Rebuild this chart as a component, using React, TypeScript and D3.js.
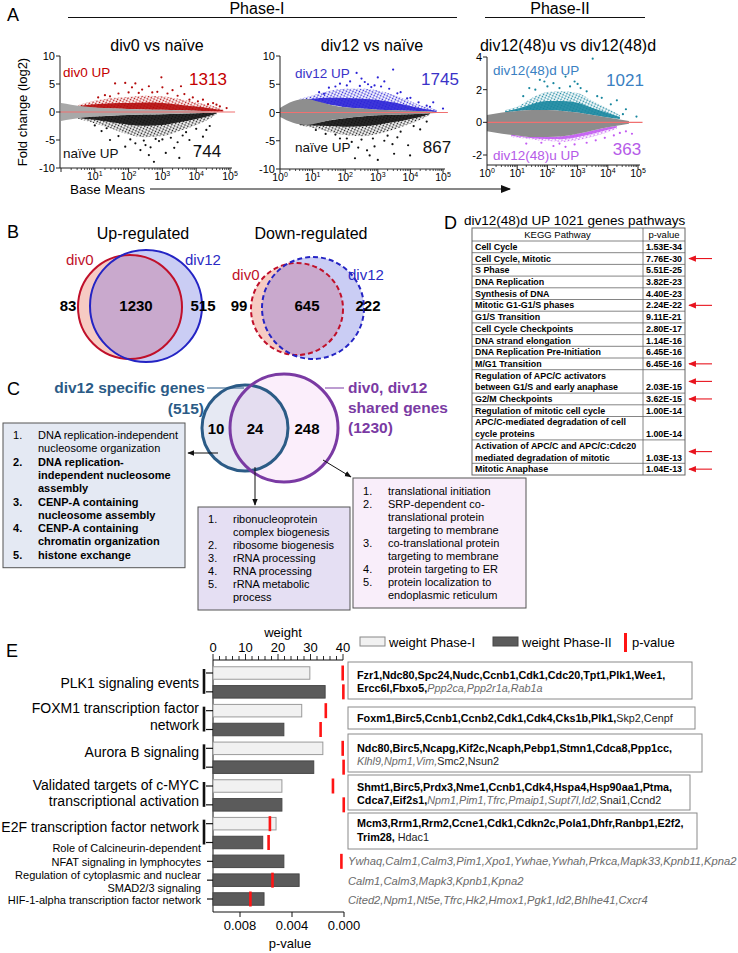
import React from 'react';
import * as d3 from 'd3';

const FONT = "'Liberation Sans', Arial, Helvetica, sans-serif";

// ---------------- Panel A data (x = log10 base mean, y = log2 fold change) ----------------
const maTitles = ['div0 vs naïve', 'div12 vs naïve', 'div12(48)u vs div12(48)d'];
const maUpLabels = ['div0 UP', 'div12 UP', 'div12(48)d UP'];
const maDownLabels = ['naïve UP', 'naïve UP', 'div12(48)u UP'];
const maUpCounts = [1313, 1745, 1021];
const maDownCounts = [744, 867, 363];
const maYTicks = [[-10, -5, 0, 5, 10], [-10, -5, 0, 5, 10], [-2, 0, 2, 4]];
const maXTickExps = [[1, 2, 3, 4, 5], [0, 1, 2, 3, 4, 5], [0, 1, 2, 3, 4, 5]];

// dense clouds as bands [log10 x, lower y, upper y]
const a1Gray = [[0, -1.6, 1.6], [0.3, -1.3, 1.3], [0.7, -1.0, 1.0], [1, -0.8, 0.8], [1.5, -0.65, 0.65], [2, -0.55, 0.55], [2.5, -0.45, 0.45], [3, -0.38, 0.38], [3.5, -0.3, 0.3], [4, -0.22, 0.22], [4.4, -0.12, 0.12]];
const a1Up = [[0.5, 0.9, 1.2], [1, 0.75, 2.0], [1.5, 0.62, 2.5], [2, 0.52, 2.7], [2.5, 0.45, 2.9], [3, 0.38, 2.8], [3.5, 0.3, 2.3], [4, 0.22, 1.7], [4.4, 0.15, 1.2], [4.8, 0.1, 0.5]];
const a1Down = [[0.5, -0.9, -1.2], [1, -0.8, -2.0], [1.5, -0.65, -3.0], [2, -0.55, -4.0], [2.5, -0.45, -4.5], [3, -0.38, -4.3], [3.5, -0.3, -3.4], [4, -0.22, -2.3], [4.4, -0.15, -1.2], [4.6, -0.1, -0.4]];
const a1UpPts = [[1.6, 5.1], [1.9, 5.2], [2.2, 5.1], [2.97, 6.2], [2.85, 3.6], [3.3, 3.9], [3.65, 3.2], [2.4, 4.0], [2.0, 3.5], [1.3, 3.0], [3.9, 2.6], [4.2, 2.2], [4.5, 1.6], [4.9, 0.7], [4.7, 1.0], [3.0, 4.4], [2.6, 4.6], [1.1, 2.6], [1.7, 3.3], [2.3, 3.4], [2.7, 3.5], [3.15, 3.3], [3.45, 2.9], [3.8, 2.2], [4.05, 1.9], [4.35, 1.4], [1.45, 2.8], [2.1, 4.4], [3.55, 4.6], [4.6, 1.3]];
const a1DownPts = [[1.45, -5.0], [1.9, -6.2], [2.35, -6.8], [2.6, -7.7], [2.9, -5.2], [3.35, -6.4], [3.8, -5.0], [4.1, -6.2], [2.75, -8.9], [2.2, -5.6], [3.1, -7.3], [3.6, -4.2], [4.3, -3.2], [1.2, -3.4], [2.5, -5.9], [3.0, -4.9], [3.5, -8.2], [4.4, -2.5], [1.7, -4.3], [2.05, -4.9], [2.45, -5.1], [2.8, -4.8], [3.25, -4.6], [3.7, -3.6], [4.0, -3.0], [1.35, -2.9], [2.65, -6.3], [3.45, -5.4], [4.2, -4.4], [1.0, -2.4]];

const a2Gray = [[0, -0.8, 0.8], [0.4, -1.8, 2.0], [0.8, -2.2, 2.4], [1.2, -1.8, 1.9], [1.6, -1.3, 1.3], [2, -1.0, 0.95], [2.5, -0.7, 0.7], [3, -0.5, 0.5], [3.5, -0.4, 0.4], [4, -0.3, 0.3], [4.5, -0.2, 0.2], [4.8, -0.1, 0.1]];
const a2Up = [[0.6, 2.0, 2.4], [1, 1.9, 3.0], [1.5, 1.4, 3.8], [2, 0.95, 4.2], [2.5, 0.7, 4.2], [3, 0.5, 3.9], [3.5, 0.4, 3.1], [4, 0.3, 2.0], [4.4, 0.2, 1.1], [4.8, 0.1, 0.5]];
const a2Down = [[0.6, -2.0, -2.3], [1, -1.9, -2.7], [1.5, -1.4, -3.4], [2, -1.0, -4.0], [2.5, -0.7, -4.2], [3, -0.5, -3.8], [3.5, -0.4, -3.0], [4, -0.3, -2.0], [4.4, -0.2, -1.0], [4.6, -0.15, -0.4]];
const a2UpPts = [[3.47, 7.6], [2.35, 7.0], [3.2, 5.5], [2.15, 5.5], [1.84, 5.1], [4.5, 1.2], [5.0, 0.7], [4.7, 1.8], [2.7, 5.0], [2.9, 4.8], [1.5, 4.4], [3.7, 3.6], [4.0, 2.6], [1.2, 3.6], [2.5, 6.0], [3.0, 6.2], [1.7, 4.6], [2.05, 4.8], [2.45, 4.7], [2.8, 4.5], [3.35, 4.2], [3.6, 3.4], [3.9, 2.5], [4.25, 1.8], [4.6, 1.0], [1.35, 3.3], [3.1, 4.6], [2.6, 5.4]];
const a2DownPts = [[2.67, -6.7], [2.9, -6.0], [2.75, -7.6], [3.93, -5.8], [3.99, -7.6], [3.5, -7.3], [2.2, -5.2], [1.84, -4.6], [3.2, -5.0], [3.6, -4.4], [4.3, -3.0], [2.4, -6.2], [1.4, -3.8], [3.0, -8.4], [4.5, -1.6], [1.7, -3.9], [2.05, -4.6], [2.5, -4.8], [2.85, -4.6], [3.3, -4.1], [3.7, -3.4], [4.1, -2.4], [1.1, -3.1], [3.45, -5.6], [2.3, -8.1]];

const a3Gray = [[0, -0.55, 0.45], [0.5, -0.7, 0.6], [1, -0.8, 0.7], [1.5, -0.9, 0.75], [2, -0.9, 0.75], [2.5, -0.85, 0.7], [3, -0.7, 0.6], [3.5, -0.5, 0.45], [4, -0.3, 0.3], [4.5, -0.15, 0.15], [4.7, -0.08, 0.08]];
const a3Up = [[0.6, 0.6, 0.75], [1, 0.7, 0.95], [1.5, 0.75, 1.5], [2, 0.75, 1.85], [2.5, 0.7, 1.9], [3, 0.6, 1.8], [3.5, 0.45, 1.3], [4, 0.3, 0.85], [4.4, 0.2, 0.45]];
const a3Down = [[0.8, -0.75, -0.9], [1.5, -0.9, -1.05], [2, -0.9, -1.15], [2.5, -0.85, -1.2], [3, -0.7, -1.1], [3.5, -0.5, -0.9], [4, -0.3, -0.6], [4.3, -0.22, -0.4]];
const a3UpPts = [[3.5, 3.9], [1.4, 2.1], [1.75, 2.6], [2.2, 2.4], [2.6, 2.8], [3.1, 2.1], [4.3, 1.35], [4.95, 0.35], [4.5, 0.5], [2.0, 2.2], [2.9, 2.5], [3.8, 1.5], [1.2, 1.6], [1.6, 2.0], [2.4, 2.1], [2.75, 2.2], [3.3, 1.9], [3.65, 1.6], [4.1, 1.1], [4.6, 0.8], [1.9, 2.5], [3.0, 2.35]];
const a3DownPts = [[1.3, -1.3], [2.2, -1.45], [2.9, -1.35], [3.3, -1.25], [3.9, -0.95], [4.6, -0.55], [4.8, -0.7], [2.6, -1.5], [1.8, -1.25], [2.4, -1.3], [3.6, -1.1], [4.2, -0.8], [4.4, -0.65]];

const maGrayBands = [a1Gray, a2Gray, a3Gray];
const maUpBands = [a1Up, a2Up, a3Up];
const maDownBands = [a1Down, a2Down, a3Down];
const maUpPoints = [a1UpPts, a2UpPts, a3UpPts];
const maDownPoints = [a1DownPts, a2DownPts, a3DownPts];

// ---------------- Panel B / C data ----------------
const vennUpCounts = [83, 1230, 515];
const vennDownCounts = [99, 645, 222];
const vennCCounts = [10, 24, 248];
const cLeftItems = [
  { lines: ['DNA replication-independent', 'nucleosome organization'], bold: false },
  { lines: ['DNA replication-', 'independent nucleosome', 'assembly'], bold: true },
  { lines: ['CENP-A containing', 'nucleosome assembly'], bold: true },
  { lines: ['CENP-A containing', 'chromatin organization'], bold: true },
  { lines: ['histone exchange'], bold: true },
];
const cMidItems = [['ribonucleoprotein', 'complex biogenesis'], ['ribosome biogenesis'], ['rRNA processing'], ['RNA processing'], ['rRNA metabolic', 'process']];
const cRightItems = [['translational initiation'], ['SRP-dependent co-', 'translational protein', 'targeting to membrane'], ['co-translational protein', 'targeting to membrane'], ['protein targeting to ER'], ['protein localization to', 'endoplasmic reticulum']];

// ---------------- Panel D data ----------------
const pathwayNames = ['Cell Cycle', 'Cell Cycle, Mitotic', 'S Phase', 'DNA Replication', 'Synthesis of DNA', 'Mitotic G1-G1/S phases', 'G1/S Transition', 'Cell Cycle Checkpoints', 'DNA strand elongation', 'DNA Replication Pre-Initiation', 'M/G1 Transition', 'Regulation of APC/C activators\nbetween G1/S and early anaphase', 'G2/M Checkpoints', 'Regulation of mitotic cell cycle', 'APC/C-mediated degradation of cell\ncycle proteins', 'Activation of APC/C and APC/C:Cdc20\nmediated degradation of mitotic', 'Mitotic Anaphase'];
const pathwayPvalues = ['1.53E-34', '7.76E-30', '5.51E-25', '3.82E-23', '4.40E-23', '2.24E-22', '9.11E-21', '2.80E-17', '1.14E-16', '6.45E-16', '6.45E-16', '2.03E-15', '3.62E-15', '1.00E-14', '1.00E-14', '1.03E-13', '1.04E-13'];
const pathwayMarked = [false, true, false, false, false, true, false, false, false, false, true, true, true, false, false, true, true];

// ---------------- Panel E data ----------------
const eBarPhase = ['I', 'II', 'I', 'II', 'I', 'II', 'I', 'II', 'I', 'II', 'II', 'II', 'II'];
const eWeights = [29.8, 34.5, 27.3, 21.8, 33.8, 31.0, 21.2, 21.2, 19.4, 15.3, 21.8, 26.5, 15.7];
const ePvalues = [0.0001, 0.00005, 0.0014, 0.0018, 0.0001, 0.00003, 0.00085, 0.00002, 0.0057, 0.0058, 0.0002, 0.0055, 0.0072];
const eBigLabels = [['PLK1 signaling events'], ['FOXM1 transcription factor', 'network'], ['Aurora B signaling'], ['Validated targets of c-MYC', 'transcriptional activation'], ['E2F transcription factor network']];
const eSmallLabels = [['Role of Calcineurin-dependent', 'NFAT signaling in lymphocytes'], ['Regulation of cytoplasmic and nuclear', 'SMAD2/3 signaling'], ['HIF-1-alpha transcription factor network']];
const eWeightTicks = [0, 10, 20, 30, 40];
const ePTicks = [0.008, 0.004, 0.0];
const geneBoxLines = [
  [[['Fzr1,Ndc80,Spc24,Nudc,Ccnb1,Cdk1,Cdc20,Tpt1,Plk1,Wee1,', 'b']], [['Ercc6l,Fbxo5,', 'b'], ['Ppp2ca,Ppp2r1a,Rab1a', 'i']]],
  [[['Foxm1,Birc5,Ccnb1,Ccnb2,Cdk1,Cdk4,Cks1b,Plk1,', 'b'], ['Skp2,Cenpf', 'n']]],
  [[['Ndc80,Birc5,Ncapg,Kif2c,Ncaph,Pebp1,Stmn1,Cdca8,Ppp1cc,', 'b']], [['Klhl9,Npm1,Vim,', 'i'], ['Smc2,Nsun2', 'n']]],
  [[['Shmt1,Birc5,Prdx3,Nme1,Ccnb1,Cdk4,Hspa4,Hsp90aa1,Ptma,', 'b']], [['Cdca7,Eif2s1,', 'b'], ['Npm1,Pim1,Tfrc,Pmaip1,Supt7l,Id2,', 'i'], ['Snai1,Ccnd2', 'n']]],
  [[['Mcm3,Rrm1,Rrm2,Ccne1,Cdk1,Cdkn2c,Pola1,Dhfr,Ranbp1,E2f2,', 'b']], [['Trim28,', 'b'], [' Hdac1', 'n']]],
];
const geneFreeLines = ['Ywhaq,Calm1,Calm3,Pim1,Xpo1,Ywhae,Ywhah,Prkca,Mapk33,Kpnb11,Kpna2', 'Calm1,Calm3,Mapk3,Kpnb1,Kpna2', 'Cited2,Npm1,Nt5e,Tfrc,Hk2,Hmox1,Pgk1,Id2,Bhlhe41,Cxcr4'];

// ---------------- layout ----------------
const maGeom = [
  { x0: 61, x5: 230, axisL: 60, yA: [-10, 10], yP: [168, 56], yTop: 56, yBot: 168, titleX: 157, upX: 63, upY: 77, upCX: 208, upCY: 85, dnX: 63, dnY: 158, dnCX: 207, dnCY: 157 },
  { x0: 280, x5: 443, axisL: 280, yA: [-10, 10], yP: [169, 56], yTop: 56, yBot: 169, titleX: 372, upX: 295, upY: 78, upCX: 440, upCY: 85, dnX: 295, dnY: 152, dnCX: 437, dnCY: 153 },
  { x0: 487, x5: 638, axisL: 487, yA: [-2, 4], yP: [155, 57], yTop: 57, yBot: 165, titleX: 568, upX: 493, upY: 75, upCX: 625, upCY: 86, dnX: 493, dnY: 160, dnCX: 627, dnCY: 155 },
];
const maUpColor = ['#b40a0a', '#2a22d6', '#17869e'];
const maDownColor = ['#111111', '#111111', '#c35cf2'];
const maUpText = ['#c40000', '#3a32c8', '#3a80c2'];
const maDownText = ['#111111', '#111111', '#b55ae8'];
const maGrayColor = ['#a8a8a8', '#8e8e8e', '#8c8c8c'];

function Pow10({ x, y, e }: { x: number; y: number; e: number }) {
  return (
    <text x={x} y={y} fontSize={10.5} textAnchor="middle">
      10<tspan fontSize={7} dy={-4.5}>{e}</tspan>
    </text>
  );
}

function MAPlot({ k }: { k: number }) {
  const g = maGeom[k];
  const x = d3.scaleLog().domain([1, 1e5]).range([g.x0, g.x5]);
  const X = (e: number) => x(Math.pow(10, e));
  const y = d3.scaleLinear().domain(g.yA).range(g.yP);
  const area = d3.area<number[]>().x(d => X(d[0])).y0(d => y(d[1])).y1(d => y(d[2])).curve(d3.curveMonotoneX);
  // inner (densest) part of each coloured cloud: the half of the band next to the grey cloud
  const inner = (band: number[][]) => band.map(d => [d[0], d[1], d[1] + (d[2] - d[1]) * 0.5]);
  const minor: number[] = [];
  for (let p = 0; p < 5; p++) for (let m = 2; m <= 9; m++) minor.push(m * Math.pow(10, p));
  return (
    <g fontFamily={FONT}>
      <text x={g.titleX} y={51} fontSize={16} textAnchor="middle">{maTitles[k]}</text>
      <path d={area(maUpBands[k]) || ''} fill={`url(#dots${k}u)`} />
      <path d={area(maDownBands[k]) || ''} fill={`url(#dots${k}d)`} />
      <path d={area(inner(maUpBands[k])) || ''} fill={maUpColor[k]} opacity={0.9} />
      <path d={area(inner(maDownBands[k])) || ''} fill={maDownColor[k]} opacity={0.9} />
      {maUpPoints[k].map((d, i) => <circle key={'u' + i} cx={X(d[0])} cy={y(d[1])} r={1.1} fill={maUpColor[k]} />)}
      {maDownPoints[k].map((d, i) => <circle key={'d' + i} cx={X(d[0])} cy={y(d[1])} r={1.1} fill={maDownColor[k]} />)}
      <path d={area(maGrayBands[k]) || ''} fill={maGrayColor[k]} />
      <line x1={g.axisL} x2={X(5.15)} y1={y(0)} y2={y(0)} stroke="#f07070" strokeWidth={1.2} />
      {/* y axis */}
      <line x1={g.axisL} x2={g.axisL} y1={g.yTop} y2={g.yBot} stroke="#222" strokeWidth={1} />
      {maYTicks[k].map(t => (
        <g key={t}>
          <line x1={g.axisL - 4} x2={g.axisL} y1={y(t)} y2={y(t)} stroke="#222" />
          <text x={g.axisL - 5} y={y(t) + 4} fontSize={11} textAnchor="end">{t}</text>
        </g>
      ))}
      {/* x axis */}
      <line x1={g.axisL} x2={X(5) + 2} y1={g.yBot} y2={g.yBot} stroke="#222" />
      {[0, 1, 2, 3, 4, 5].map(e => <line key={e} x1={X(e)} x2={X(e)} y1={g.yBot} y2={g.yBot + 4} stroke="#222" />)}
      {minor.map(v => <line key={v} x1={x(v)} x2={x(v)} y1={g.yBot} y2={g.yBot + 2} stroke="#222" strokeWidth={0.8} />)}
      {maXTickExps[k].map(e => <Pow10 key={e} x={X(e)} y={g.yBot + 12} e={e} />)}
      <text x={g.upX} y={g.upY} fontSize={13.5} fill={maUpText[k]}>{maUpLabels[k]}</text>
      <text x={g.upCX} y={g.upCY} fontSize={17} fill={maUpText[k]} textAnchor="middle">{maUpCounts[k]}</text>
      <text x={g.dnX} y={g.dnY} fontSize={13.5} fill={maDownText[k]}>{maDownLabels[k]}</text>
      <text x={g.dnCX} y={g.dnCY} fontSize={17} fill={maDownText[k]} textAnchor="middle">{maDownCounts[k]}</text>
    </g>
  );
}

function PanelB() {
  return (
    <g fontFamily={FONT}>
      <text x={7} y={238} fontSize={18}>B</text>
      <text x={143} y={239} fontSize={16} textAnchor="middle">Up-regulated</text>
      <text x={311} y={239} fontSize={16} textAnchor="middle">Down-regulated</text>
      {/* up venn */}
      <circle cx={146} cy={306} r={56} fill="#cacdf4" />
      <circle cx={130} cy={307} r={52} fill="#f6cbc3" />
      <circle cx={130} cy={307} r={52} fill="#c9a9cd" clipPath="url(#clipUpBlue)" />
      <circle cx={130} cy={307} r={52} fill="none" stroke="#c0102a" strokeWidth={2} />
      <circle cx={146} cy={306} r={56} fill="none" stroke="#2424c4" strokeWidth={2} />
      <text x={66} y={265} fontSize={15} fill="#c0102a">div0</text>
      <text x={185} y={265} fontSize={15} fill="#2a2ac4">div12</text>
      <text x={68} y={311} fontSize={15} fontWeight="bold" textAnchor="middle">{vennUpCounts[0]}</text>
      <text x={136} y={311} fontSize={15} fontWeight="bold" textAnchor="middle">{vennUpCounts[1]}</text>
      <text x={203} y={311} fontSize={15} fontWeight="bold" textAnchor="middle">{vennUpCounts[2]}</text>
      {/* down venn */}
      <circle cx={313} cy={308} r={51} fill="#cacdf4" />
      <circle cx={297} cy={309} r={46} fill="#f6cbc3" />
      <circle cx={297} cy={309} r={46} fill="#c9a9cd" clipPath="url(#clipDnBlue)" />
      <circle cx={297} cy={309} r={46} fill="none" stroke="#c0102a" strokeWidth={2} strokeDasharray="5,3" />
      <circle cx={313} cy={308} r={51} fill="none" stroke="#2424c4" strokeWidth={2} strokeDasharray="5,3" />
      <text x={232} y={280} fontSize={15} fill="#c0102a">div0</text>
      <text x={348} y={280} fontSize={15} fill="#2a2ac4">div12</text>
      <text x={239} y={311} fontSize={15} fontWeight="bold" textAnchor="middle">{vennDownCounts[0]}</text>
      <text x={307} y={311} fontSize={15} fontWeight="bold" textAnchor="middle">{vennDownCounts[1]}</text>
      <text x={368} y={311} fontSize={15} fontWeight="bold" textAnchor="middle">{vennDownCounts[2]}</text>
    </g>
  );
}

function ListBox({ x, y0, w, lh, items, fill, firstBase }: any) {
  let line = 0;
  const nLines = items.reduce((s: number, it: any) => s + (it.lines ? it.lines.length : it.length), 0);
  const h = firstBase - y0 + (nLines - 1) * lh + 9;
  return (
    <g>
      <rect x={x} y={y0} width={w} height={h} fill={fill} stroke="#555" strokeWidth={1} />
      {items.map((it: any, i: number) => {
        const lines = it.lines ? it.lines : it;
        const bold = it.bold ? 'bold' : 'normal';
        const start = line;
        line += lines.length;
        return (
          <g key={i} fontWeight={bold}>
            <text x={x + 10} y={firstBase + start * lh} fontSize={11}>{i + 1}.</text>
            {lines.map((s: string, j: number) => (
              <text key={j} x={x + 35} y={firstBase + (start + j) * lh} fontSize={11}>{s}</text>
            ))}
          </g>
        );
      })}
    </g>
  );
}

function PanelC() {
  return (
    <g fontFamily={FONT}>
      <text x={7} y={395} fontSize={18}>C</text>
      <circle cx={245} cy={428} r={43} fill="#e6e9f3" />
      <circle cx={284} cy={428} r={54} fill="#fbeefb" />
      <circle cx={284} cy={428} r={54} fill="#e4ddf0" clipPath="url(#clipCBlue)" />
      <circle cx={245} cy={428} r={43} fill="none" stroke="#2b5b86" strokeWidth={3} />
      <circle cx={284} cy={428} r={54} fill="none" stroke="#7a3aa3" strokeWidth={3} />
      <text x={216} y={434} fontSize={15} fontWeight="bold" textAnchor="middle">{vennCCounts[0]}</text>
      <text x={255} y={434} fontSize={15} fontWeight="bold" textAnchor="middle">{vennCCounts[1]}</text>
      <text x={307} y={434} fontSize={15} fontWeight="bold" textAnchor="middle">{vennCCounts[2]}</text>
      <text x={205} y={393} fontSize={15.5} fontWeight="bold" fill="#2b5b86" textAnchor="end">div12 specific genes</text>
      <text x={204} y={414} fontSize={15.5} fontWeight="bold" fill="#2b5b86" textAnchor="end">(515)</text>
      <line x1={207} x2={244} y1={388} y2={388} stroke="#2b5b86" strokeWidth={1} />
      <text x={348} y={393} fontSize={15.5} fontWeight="bold" fill="#7a3aa3">div0, div12</text>
      <text x={348} y={413} fontSize={15.5} fontWeight="bold" fill="#7a3aa3">shared genes</text>
      <text x={348} y={433} fontSize={15.5} fontWeight="bold" fill="#7a3aa3">(1230)</text>
      <line x1={325} x2={344} y1={388} y2={388} stroke="#7a3aa3" strokeWidth={1} />
      {/* arrows */}
      <line x1={218} x2={188} y1={453} y2={453} stroke="#111" strokeWidth={1} markerEnd="url(#arrBlk)" />
      <line x1={255} x2={255} y1={467} y2={505} stroke="#111" strokeWidth={1} markerEnd="url(#arrBlk)" />
      <line x1={323} x2={351} y1={460} y2={477} stroke="#111" strokeWidth={1} markerEnd="url(#arrBlk)" />
      <ListBox x={3} y0={423} w={182} lh={13.3} items={cLeftItems} fill="#e4e9f3" firstBase={439} />
      <ListBox x={198} y0={507} w={152} lh={13} items={cMidItems} fill="#e5dff3" firstBase={523} />
      <ListBox x={353} y0={478} w={173} lh={13} items={cRightItems} fill="#f9eefa" firstBase={495} />
    </g>
  );
}

function PanelD() {
  const left = 472, sep = 643, right = 685, headTop = 228, headH = 13, lh = 11.7;
  const rows: { top: number; h: number; lines: string[] }[] = [];
  let t = headTop + headH;
  pathwayNames.forEach(n => {
    const lines = n.split('\n');
    rows.push({ top: t, h: lines.length * lh, lines });
    t += lines.length * lh;
  });
  const bottom = t;
  return (
    <g fontFamily={FONT}>
      <text x={444} y={229} fontSize={18}>D</text>
      <text x={464} y={225} fontSize={13.5}>div12(48)d UP 1021 genes pathways</text>
      <rect x={left} y={headTop} width={right - left} height={bottom - headTop} fill="#fff" stroke="#666" strokeWidth={1} />
      <line x1={sep} x2={sep} y1={headTop} y2={bottom} stroke="#666" strokeWidth={0.8} />
      <text x={(left + sep) / 2} y={headTop + 10} fontSize={9.5} textAnchor="middle">KEGG Pathway</text>
      <text x={(sep + right) / 2} y={headTop + 10} fontSize={9.5} textAnchor="middle">p-value</text>
      {rows.map((r, i) => (
        <g key={i}>
          <line x1={left} x2={right} y1={r.top} y2={r.top} stroke="#666" strokeWidth={0.8} />
          {r.lines.map((s, j) => (
            <text key={j} x={left + 3} y={r.top + (j + 1) * lh - 2.8} fontSize={8.9} fontWeight="bold">{s}</text>
          ))}
          <text x={sep + 3} y={r.top + r.h - 2.8} fontSize={8.9} fontWeight="bold">{pathwayPvalues[i]}</text>
          {pathwayMarked[i] && (
            <line x1={712} x2={689} y1={r.top + r.h / 2} y2={r.top + r.h / 2} stroke="#e8141e" strokeWidth={1.1} markerEnd="url(#arrRed)" />
          )}
        </g>
      ))}
    </g>
  );
}

function PanelE() {
  const xw = d3.scaleLinear().domain([0, 40]).range([213, 343]);
  const xp = d3.scaleLinear().domain([0, 0.008]).range([344, 240]);
  const yc = d3.scalePoint<number>().domain(eWeights.map((_, i) => i)).range([673, 899]);
  const bh = 12.5;
  const minorW = d3.range(0, 41, 2);
  const bigBase = [[688], [713, 730], [757], [790, 806], [832]];
  const smallBase = [[852, 866], [879, 892], [904]];
  const smallTickRows = [10, 11, 12];
  const boxLay = [
    { top: 662, bottom: 699, right: 692, base: [679, 692] },
    { top: 707, bottom: 729, right: 695, base: [722] },
    { top: 734, bottom: 772, right: 702, base: [752, 765] },
    { top: 775, bottom: 810, right: 690, base: [791, 804] },
    { top: 813, bottom: 849, right: 697, base: [827, 841] },
  ];
  const freeBase = [865, 885, 904];
  const segStyle = (s: string) =>
    s === 'b' ? { fontWeight: 'bold', fill: '#000' } : s === 'i' ? { fontStyle: 'italic', fill: '#6a6a6a' } : { fill: '#222' };
  return (
    <g fontFamily={FONT}>
      <text x={6} y={657} fontSize={18}>E</text>
      <text x={283} y={637} fontSize={13} textAnchor="middle">weight</text>
      {/* top weight axis */}
      <line x1={213} x2={343} y1={660} y2={660} stroke="#111" />
      {minorW.map(v => <line key={v} x1={xw(v)} x2={xw(v)} y1={660} y2={v % 10 === 0 ? 654 : 656} stroke="#111" strokeWidth={0.9} />)}
      {eWeightTicks.map(v => <text key={v} x={xw(v)} y={652} fontSize={13} textAnchor="middle">{v}</text>)}
      {/* left axis */}
      <line x1={213} x2={213} y1={660} y2={912} stroke="#111" />
      {/* bottom p axis */}
      <line x1={213} x2={344} y1={912} y2={912} stroke="#111" />
      {ePTicks.map(v => (
        <g key={v}>
          <line x1={xp(v)} x2={xp(v)} y1={912} y2={917} stroke="#111" />
          <text x={xp(v)} y={930} fontSize={13} textAnchor="middle">{v.toFixed(3)}</text>
        </g>
      ))}
      <text x={290} y={948} fontSize={13} textAnchor="middle">p-value</text>
      {/* bars */}
      {eWeights.map((w, i) => (
        <rect key={i} x={xw(0)} y={(yc(i) as number) - bh / 2} width={xw(w) - xw(0)} height={bh}
          fill={eBarPhase[i] === 'I' ? '#f1f1f1' : '#5b5b5b'} stroke={eBarPhase[i] === 'I' ? '#9a9a9a' : '#474747'} strokeWidth={1} />
      ))}
      {ePvalues.map((p, i) => (
        <rect key={i} x={xp(p) - 1.3} y={(yc(i) as number) - 7.5} width={2.6} height={15} fill="#ff1414" />
      ))}
      {/* labels */}
      {eBigLabels.map((ls, gi) => (
        <g key={gi}>
          {ls.map((s, j) => <text key={j} x={199} y={bigBase[gi][j]} fontSize={14} textAnchor="end">{s}</text>)}
          <line x1={204} x2={204} y1={(yc(gi * 2) as number) - 4} y2={(yc(gi * 2 + 1) as number) + 2} stroke="#111" strokeWidth={2.6} />
          <line x1={206} x2={213} y1={yc(gi * 2) as number} y2={yc(gi * 2) as number} stroke="#111" strokeWidth={1.2} />
          <line x1={206} x2={213} y1={yc(gi * 2 + 1) as number} y2={yc(gi * 2 + 1) as number} stroke="#111" strokeWidth={1.2} />
        </g>
      ))}
      {eSmallLabels.map((ls, gi) => (
        <g key={gi}>
          {ls.map((s, j) => <text key={j} x={201} y={smallBase[gi][j]} fontSize={11} textAnchor="end">{s}</text>)}
          <line x1={207} x2={213} y1={yc(smallTickRows[gi]) as number} y2={yc(smallTickRows[gi]) as number} stroke="#111" strokeWidth={1.2} />
        </g>
      ))}
      {/* legend */}
      <rect x={360} y={637} width={25} height={9} fill="#f1f1f1" stroke="#888" />
      <text x={389} y={647} fontSize={13}>weight Phase-I</text>
      <rect x={493} y={637} width={25} height={9} fill="#5b5b5b" stroke="#474747" />
      <text x={522} y={647} fontSize={13}>weight Phase-II</text>
      <rect x={624} y={633} width={3} height={19} fill="#ff1414" />
      <text x={632} y={647} fontSize={13}>p-value</text>
      {/* gene boxes */}
      {geneBoxLines.map((lines, bi) => {
        const L = boxLay[bi];
        return (
          <g key={bi}>
            <rect x={348} y={L.top} width={L.right - 348} height={L.bottom - L.top} fill="#fff" stroke="#8a8a8a" strokeWidth={1} />
            {lines.map((segs, li) => (
              <text key={li} x={357} y={L.base[li]} fontSize={10.8} xmlSpace="preserve">
                {segs.map((sg, si) => <tspan key={si} {...(segStyle(sg[1]) as any)}>{sg[0]}</tspan>)}
              </text>
            ))}
          </g>
        );
      })}
      {geneFreeLines.map((s, i) => (
        <text key={i} x={348} y={freeBase[i]} fontSize={11.2} fontStyle="italic" fill="#6a6a6a">{s}</text>
      ))}
    </g>
  );
}

export default function App() {
  const dotDefs = [0, 1, 2].flatMap(k => [
    <pattern key={k + 'u'} id={`dots${k}u`} width={3} height={2.6} patternUnits="userSpaceOnUse" patternTransform="rotate(25)">
      <circle cx={1.5} cy={1.3} r={0.9} fill={maUpColor[k]} />
    </pattern>,
    <pattern key={k + 'd'} id={`dots${k}d`} width={3} height={2.6} patternUnits="userSpaceOnUse" patternTransform="rotate(25)">
      <circle cx={1.5} cy={1.3} r={0.9} fill={maDownColor[k]} />
    </pattern>,
  ]);
  return (
    <svg width={738} height={953} viewBox="0 0 738 953" style={{ position: 'absolute', left: 0, top: 0, background: '#fff' }} fontFamily={FONT}>
      <defs>
        {dotDefs}
        <clipPath id="clipUpBlue"><circle cx={146} cy={306} r={56} /></clipPath>
        <clipPath id="clipDnBlue"><circle cx={313} cy={308} r={51} /></clipPath>
        <clipPath id="clipCBlue"><circle cx={245} cy={428} r={43} /></clipPath>
        <marker id="arrBlk" viewBox="0 0 10 10" refX={9} refY={5} markerWidth={7} markerHeight={7} orient="auto">
          <path d="M0,1 L10,5 L0,9 z" fill="#111" />
        </marker>
        <marker id="arrRed" viewBox="0 0 10 10" refX={9} refY={5} markerWidth={7} markerHeight={7} orient="auto">
          <path d="M0,1 L10,5 L0,9 z" fill="#e8141e" />
        </marker>
        <marker id="arrBig" viewBox="0 0 10 10" refX={9} refY={5} markerWidth={10} markerHeight={10} orient="auto">
          <path d="M0,1 L10,5 L0,9 z" fill="#111" />
        </marker>
      </defs>
      <rect x={0} y={0} width={738} height={953} fill="#fff" />
      {/* Panel A header */}
      <text x={7} y={21} fontSize={18} fontFamily={FONT}>A</text>
      <text x={257} y={14} fontSize={16} textAnchor="middle" fontFamily={FONT}>Phase-I</text>
      <line x1={68} x2={457} y1={17.5} y2={17.5} stroke="#111" strokeWidth={1.2} />
      <text x={560} y={14} fontSize={16} textAnchor="middle" fontFamily={FONT}>Phase-II</text>
      <line x1={485} x2={645} y1={17.5} y2={17.5} stroke="#111" strokeWidth={1.2} />
      <text transform="translate(27,112) rotate(-90)" fontSize={13} textAnchor="middle" fontFamily={FONT}>Fold change (log2)</text>
      <MAPlot k={0} />
      <MAPlot k={1} />
      <MAPlot k={2} />
      <text x={70} y={194} fontSize={13.5} fontFamily={FONT}>Base Means</text>
      <line x1={150} x2={510} y1={189} y2={189} stroke="#111" strokeWidth={1} markerEnd="url(#arrBig)" />
      <PanelB />
      <PanelC />
      <PanelD />
      <PanelE />
    </svg>
  );
}
